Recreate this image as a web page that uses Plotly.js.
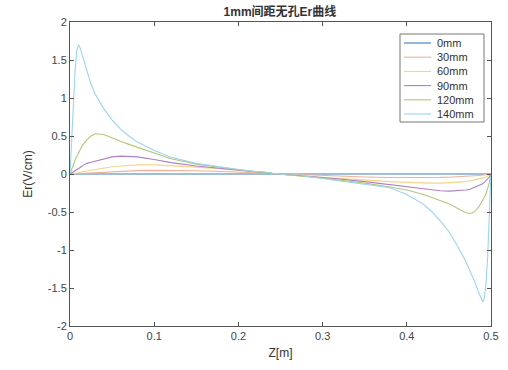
<!DOCTYPE html>
<html>
<head>
<meta charset="utf-8">
<script src="https://cdn.plot.ly/plotly-3.0.1.min.js"></script>
<style>html,body{margin:0;padding:0;background:#fff;}#chart{width:508px;height:370px;}</style>
</head>
<body>
<div id="chart"></div>
<script>
var z = [0, 0.002, 0.004, 0.006, 0.008, 0.01, 0.012, 0.015, 0.02, 0.025,
         0.03, 0.04, 0.05, 0.06, 0.07, 0.08, 0.1, 0.12, 0.15, 0.18,
         0.2, 0.22, 0.23, 0.24, 0.25, 0.26, 0.27, 0.28, 0.3, 0.32,
         0.35, 0.38, 0.4, 0.42, 0.43, 0.44, 0.45, 0.46, 0.47, 0.475,
         0.48, 0.485, 0.488, 0.49, 0.492, 0.494, 0.496, 0.498, 0.5];
var er0 = [0,0,0,0,0,0,0,0,0,0,
           0,0,0,0,0,0,0,0,0,0,
           0,0,0,0,0,0,0,0,0,0,
           0,0,0,0,0,0,0,0,0,0,
           0,0,0,0,0,0,0,0,0];
var er30 = [0,0.001,0.003,0.004,0.006,0.007,0.008,0.01,0.014,0.017,
            0.02,0.027,0.033,0.038,0.042,0.045,0.048,0.048,0.042,0.033,
            0.025,0.015,0.01,0.005,0,-0.005,-0.01,-0.015,-0.025,-0.032,
            -0.04,-0.046,-0.048,-0.048,-0.047,-0.045,-0.042,-0.038,-0.032,-0.028,
            -0.025,-0.02,-0.017,-0.015,-0.013,-0.01,-0.007,-0.004,0];
var er60 = [0,0.003,0.007,0.01,0.015,0.02,0.024,0.03,0.04,0.05,
            0.06,0.08,0.095,0.105,0.113,0.12,0.12,0.11,0.09,0.065,
            0.045,0.028,0.019,0.01,0,-0.01,-0.019,-0.028,-0.045,-0.06,
            -0.08,-0.1,-0.11,-0.12,-0.12,-0.12,-0.115,-0.11,-0.1,-0.09,
            -0.08,-0.07,-0.062,-0.055,-0.048,-0.04,-0.03,-0.015,0];
var er90 = [0,0.013,0.027,0.04,0.055,0.07,0.085,0.11,0.14,0.155,
            0.17,0.2,0.225,0.235,0.233,0.225,0.19,0.15,0.105,0.07,
            0.045,0.025,0.016,0.008,0,-0.008,-0.016,-0.025,-0.045,-0.065,
            -0.1,-0.14,-0.17,-0.2,-0.21,-0.22,-0.225,-0.22,-0.21,-0.2,
            -0.18,-0.16,-0.145,-0.13,-0.11,-0.09,-0.07,-0.04,0];
var er120 = [0,0.07,0.13,0.18,0.23,0.28,0.32,0.38,0.45,0.5,
             0.53,0.52,0.47,0.43,0.39,0.35,0.27,0.2,0.13,0.085,
             0.055,0.03,0.02,0.01,0,-0.01,-0.02,-0.035,-0.055,-0.08,
             -0.12,-0.17,-0.21,-0.27,-0.31,-0.35,-0.39,-0.45,-0.51,-0.52,
             -0.5,-0.44,-0.39,-0.36,-0.31,-0.26,-0.2,-0.12,0];
var er140 = [0,0.5,0.95,1.35,1.62,1.7,1.66,1.55,1.34,1.18,
             1.05,0.86,0.71,0.59,0.5,0.42,0.31,0.22,0.14,0.09,
             0.06,0.035,0.03,0.01,0,-0.02,0.01,-0.03,-0.06,-0.09,
             -0.13,-0.18,-0.27,-0.4,-0.5,-0.62,-0.76,-0.94,-1.15,-1.27,
             -1.4,-1.55,-1.63,-1.68,-1.64,-1.45,-1.1,-0.6,0];
var names = ['0mm','30mm','60mm','90mm','120mm','140mm'];
var colors = ['#3a7fb8','#eeb09a','#f2d58a','#b07fbf','#b2c67a','#99d5f0'];
var series = [er0, er30, er60, er90, er120, er140];
var xTicks = [0, 0.1, 0.2, 0.3, 0.4, 0.5];
var yTicks = [-2, -1.5, -1, -0.5, 0, 0.5, 1, 1.5, 2];

var traces = series.map(function(s, i){
  return {x: z, y: s, type: 'scatter', mode: 'lines', name: names[i],
          line: {color: colors[i], width: 1.1}, showlegend: false};
});

var FONT = 'Liberation Sans, Arial, sans-serif';
var axisBase = {showgrid: false, zeroline: false, showline: true, mirror: 'ticks',
  linecolor: '#555', linewidth: 1, ticks: 'inside', ticklen: 4, tickcolor: '#555',
  tickfont: {family: FONT, size: 11, color: '#444'}};

// manual MATLAB-style legend box (pixel-based placement in the paper frame)
var plotL = 70, plotT = 22, plotW = 421, plotH = 304;
function px(x){ return (x - plotL) / plotW; }
function py(y){ return (plotT + plotH - y) / plotH; }
var shapes = [{type: 'rect', xref: 'paper', yref: 'paper', x0: px(400), x1: px(484), y0: py(122), y1: py(34),
               line: {color: '#777', width: 1}, fillcolor: '#fff', layer: 'above'}];
var annotations = [];
names.forEach(function(n, i){
  var yy = 43 + 14.2 * i;
  shapes.push({type: 'line', xref: 'paper', yref: 'paper', x0: px(404), x1: px(431), y0: py(yy), y1: py(yy),
               line: {color: colors[i], width: 1.1}, layer: 'above'});
  annotations.push({xref: 'paper', yref: 'paper', x: px(435), y: py(yy), xanchor: 'left', yanchor: 'middle',
               text: n, showarrow: false, font: {family: FONT, size: 11, color: '#333'}});
});

var layout = {
  width: 508, height: 370,
  margin: {l: 70, r: 17, t: 22, b: 44},
  paper_bgcolor: '#fff', plot_bgcolor: '#fff',
  title: {text: '<b>1mm间距无孔Er曲线</b>', x: 0.551, xanchor: 'center', y: 0.967, yanchor: 'middle',
          font: {family: 'Liberation Sans, Noto Sans CJK SC, sans-serif', size: 12, color: '#333'}},
  xaxis: Object.assign({}, axisBase, {range: [0, 0.5], tickvals: xTicks, ticktext: xTicks.map(String),
     title: {text: 'Z[m]', standoff: 7, font: {family: FONT, size: 12, color: '#333'}}}),
  yaxis: Object.assign({}, axisBase, {range: [-2, 2], tickvals: yTicks, ticktext: yTicks.map(String),
     title: {text: 'Er(V/cm)', standoff: 12, font: {family: FONT, size: 12, color: '#333'}}}),
  showlegend: false,
  shapes: shapes,
  annotations: annotations
};

Plotly.newPlot('chart', traces, layout, {displayModeBar: false, staticPlot: true});
</script>
</body>
</html>
